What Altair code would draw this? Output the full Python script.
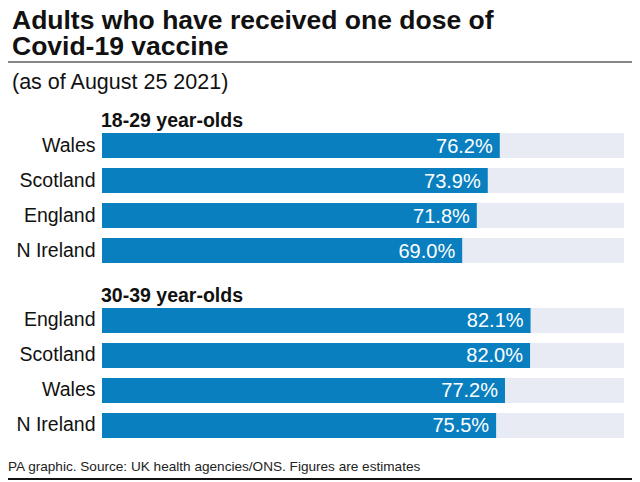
import altair as alt
import pandas as pd

groups = ["18-29 year-olds", "30-39 year-olds"]
countries_1829 = ["Wales", "Scotland", "England", "N Ireland"]
values_1829 = [76.2, 73.9, 71.8, 69.0]
countries_3039 = ["England", "Scotland", "Wales", "N Ireland"]
values_3039 = [82.1, 82.0, 77.2, 75.5]

title_lines = ["Adults who have received one dose of", "Covid-19 vaccine"]
subtitle = "(as of August 25 2021)"
footer = "PA graphic. Source: UK health agencies/ONS. Figures are estimates"

rows = []
order = []
for gi, (g, cs, vs) in enumerate([(groups[0], countries_1829, values_1829),
                                   (groups[1], countries_3039, values_3039)]):
    hk = f"~{gi}"
    order.append(hk)
    rows.append({"key": hk, "header": g, "value": None, "full": None, "label": ""})
    for c, v in zip(cs, vs):
        k = f"{gi} {c}"
        order.append(k)
        rows.append({"key": k, "header": "", "value": v, "full": 100, "label": f"{v:.1f}%"})
df = pd.DataFrame(rows)

FONT = "Liberation Sans"
BAR = "#0a7fc0"
BG = "#e8eaf4"
INK = "#111111"

y = alt.Y("key:N", sort=order, title=None,
          scale=alt.Scale(domain=order, paddingInner=0.2857, paddingOuter=0.1429),
          axis=alt.Axis(labelExpr="datum.value[0]=='~' ? '' : substring(datum.value, 2)",
                        ticks=False, domain=False, grid=False, labelFont=FONT, labelFontSize=19.5,
                        labelColor=INK, labelPadding=7))
xscale = alt.Scale(domain=[0, 100])
x = alt.X("value:Q", scale=xscale, axis=None, title=None)

bars_df = df[df["value"].notna()]
head_df = df[df["header"] != ""]

bg = alt.Chart(bars_df).mark_bar(color=BG).encode(x=alt.X("full:Q", scale=xscale, axis=None), y=y)
fg = alt.Chart(bars_df).mark_bar(color=BAR).encode(x=x, y=y)
lbl = alt.Chart(bars_df).mark_text(align="right", baseline="middle", dx=-7, dy=1, color="white",
                                   font=FONT, fontSize=20).encode(x=x, y=y, text="label:N")
hdr = alt.Chart(head_df).mark_text(align="left", baseline="alphabetic", dy=16.5, dx=-1,
                                   font=FONT, fontSize=19.5, fontWeight="bold", color=INK).encode(
    x=alt.value(0), y=y, text="header:N")


def deco_text(txt, xv, yv, size, weight="normal", color=INK):
    return alt.Chart(pd.DataFrame({"t": [txt]})).mark_text(
        align="left", baseline="alphabetic", font=FONT, fontSize=size, fontWeight=weight, color=color
    ).encode(x=alt.value(xv), y=alt.value(yv), text="t:N")


t1 = deco_text(title_lines[0], -90, -64, 26.5, "bold")
t2 = deco_text(title_lines[1], -90, -38, 26.5, "bold")
sub = deco_text(subtitle, -90, -4, 21.5)
foot = deco_text(footer, -94, 378, 13.6, color="#222222")

rule1 = alt.Chart(pd.DataFrame({"a": [0]})).mark_rule(color=INK, strokeWidth=1.2).encode(
    x=alt.value(-94), x2=alt.value(530), y=alt.value(-31))
rule2 = alt.Chart(pd.DataFrame({"a": [0]})).mark_rule(color=INK, strokeWidth=2).encode(
    x=alt.value(-94), x2=alt.value(530), y=alt.value(386))

chart = alt.layer(bg, fg, lbl, hdr, t1, t2, sub, foot, rule1, rule2).properties(
    width=522, height=350,
    padding={"left": 94, "top": 85, "right": 8, "bottom": 39},
    autosize=alt.AutoSizeParams(type="none"),
    background="white",
).configure_view(stroke=None, strokeWidth=0)

chart.save("out.html", embed_options={"renderer": "svg", "actions": False})
